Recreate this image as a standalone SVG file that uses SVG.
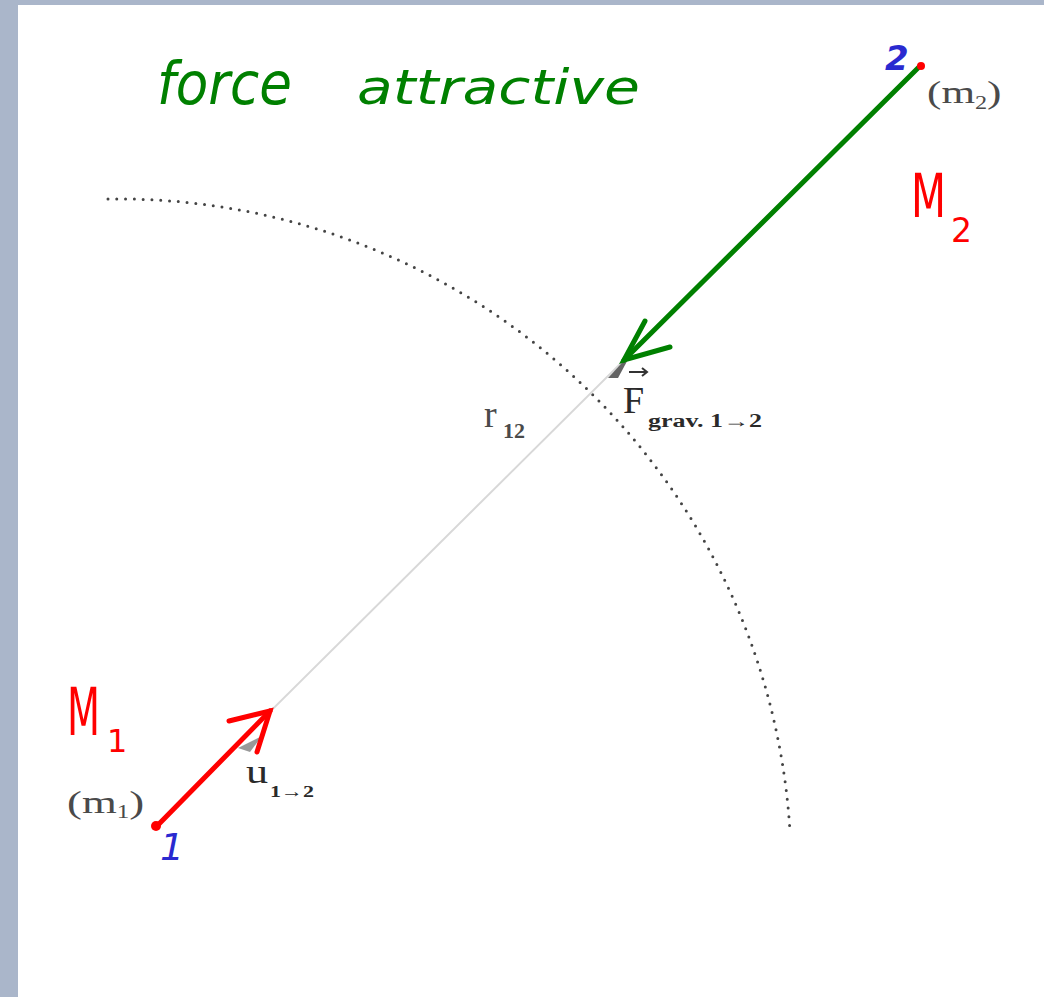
<svg xmlns="http://www.w3.org/2000/svg" width="1044" height="997" viewBox="0 0 1044 997">
<style>
.lbl{font-family:"Liberation Serif",serif;fill:#4a4a4a}
.dark{font-family:"Liberation Serif",serif;fill:#2a2a2a}
.hand{font-family:"DejaVu Sans",sans-serif}
</style>
<rect width="1044" height="997" fill="#ffffff"/>
<rect x="0" y="0" width="1044" height="5" fill="#aab6ca"/>
<rect x="0" y="0" width="18" height="997" fill="#aab6ca"/>
<g id="title">
<text class="hand" x="157" y="104" font-size="58" font-style="italic" fill="#008000" textLength="135" lengthAdjust="spacingAndGlyphs">force</text>
<text class="hand" x="357" y="104" font-size="48" font-style="italic" fill="#008000" textLength="283" lengthAdjust="spacingAndGlyphs">attractive</text>
</g>
<g id="connectors">
<path d="M108 199 A673 673 0 0 1 790 832" fill="none" stroke="#444" stroke-width="3" stroke-linecap="round" stroke-dasharray="0 8.8"/>
<line x1="155" y1="826" x2="920" y2="66" stroke="#d8d8d8" stroke-width="2"/>
<path d="M238 748 L262 736 L250 752 Z" fill="#555" opacity="0.6"/>
<path d="M608 378 L632 352 L618 378 Z" fill="#222" opacity="0.7"/>
<g id="force-arrow" stroke="#008000" stroke-width="5" stroke-linecap="round" fill="none">
<line x1="920" y1="66" x2="624" y2="360"/>
<path d="M645 321 L624 360 L670 347"/>
</g>
<g id="unit-arrow" stroke="#ff0000" stroke-width="5" stroke-linecap="round" fill="none">
<line x1="157" y1="826" x2="270" y2="711"/>
<path d="M229 721 L270 711 L257 752"/>
</g>
</g>
<g id="m1">
<circle cx="156" cy="826" r="5" fill="#ff0000"/>
<text class="lbl" x="0" y="0" font-size="32" transform="translate(67 813) scale(1.4 1)">(m<tspan font-size="18" dy="5">1</tspan><tspan dy="-5">)</tspan></text>
<text class="hand" x="67" y="735" font-size="66" fill="#ff0000"><tspan textLength="33" lengthAdjust="spacingAndGlyphs">M</tspan><tspan x="107" y="752" font-size="32">1</tspan></text>
<text class="hand" x="160" y="860" font-size="38" font-style="italic" fill="#2a2ad0">1</text>
</g>
<g id="m2">
<circle cx="921" cy="66" r="4" fill="#ff0000"/>
<text class="lbl" x="0" y="0" font-size="32" transform="translate(927 103) scale(1.35 1)">(m<tspan font-size="18" dy="6">2</tspan><tspan dy="-6">)</tspan></text>
<text class="hand" x="911" y="217" font-size="60" fill="#ff0000"><tspan textLength="35" lengthAdjust="spacingAndGlyphs">M</tspan><tspan x="951" y="242" font-size="33">2</tspan></text>
<text class="hand" x="885" y="70" font-size="34" font-weight="bold" font-style="italic" fill="#2a2ad0">2</text>
</g>
<g id="r12">
<text class="lbl" x="484" y="427" font-size="38">r<tspan x="503" y="438" font-size="22" font-weight="bold">12</tspan></text>
</g>
<g id="force-label">
<text class="dark" x="623" y="413" font-size="38">F</text>
<path d="M629 372 L646 372 M642 368 L647 372 L642 376" stroke="#333" stroke-width="2" fill="none"/>
<text class="dark" x="648" y="427" font-size="18" font-weight="bold" textLength="114" lengthAdjust="spacingAndGlyphs">grav. 1→2</text>
</g>
<g id="u-label">
<text class="dark" x="0" y="0" font-size="34" transform="translate(246 783) scale(1.3 1)">u</text>
<text class="dark" x="270" y="797" font-size="17" font-weight="bold" textLength="44" lengthAdjust="spacingAndGlyphs">1→2</text>
</g>
</svg>
